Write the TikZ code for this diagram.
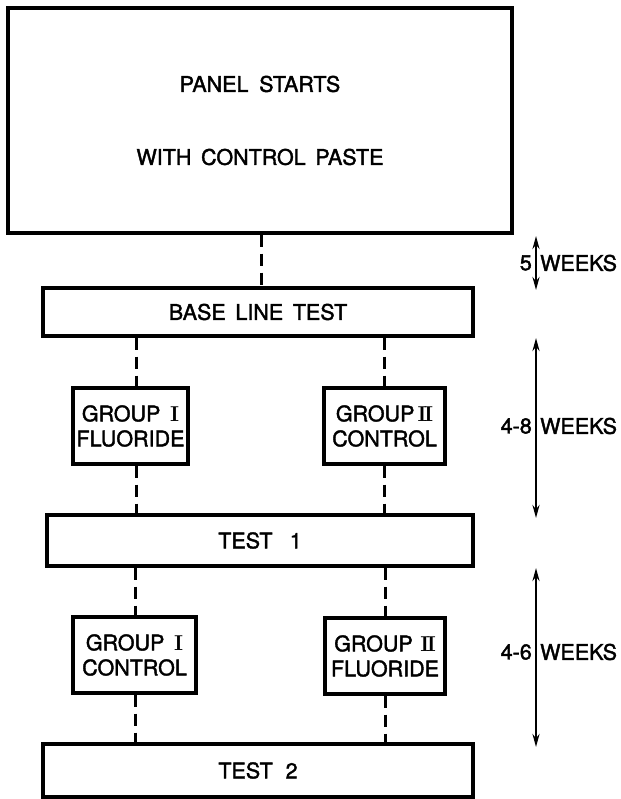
\documentclass[tikz,border=0pt]{standalone}
\usepackage{fontspec}
\setmainfont{TeX Gyre Heros}[FakeBold=1.8]
\newfontfamily\lmr{Latin Modern Roman}
\usetikzlibrary{arrows.meta}
\tikzset{
  boxnode/.style={draw, line width=3.3pt, rectangle, inner sep=0pt, align=center, font=\fontsize{21.5}{25}\selectfont},
  dashline/.style={line width=3pt, dash pattern=on 12pt off 7pt},
  spanarrow/.style={line width=2.8pt, {Stealth[length=13pt,width=7pt]}-{Stealth[length=13pt,width=7pt]}},
  lbl/.style={inner sep=0pt, font=\fontsize{21.5}{25}\selectfont}
}
\newcommand{\rI}{{\lmr\bfseries I}}
\newcommand{\rII}{{\lmr\bfseries I\kern-0.12em I}}
\begin{document}
\begin{tikzpicture}[x=1pt,y=-1pt]
\useasboundingbox (0,0) rectangle (620,799);
% boxes
\node[boxnode, minimum width=504pt, minimum height=225pt] (top) at (260,120.5)
  {PANEL\hspace{0.5em}STARTS\\[48pt]WITH\hspace{0.45em}CONTROL\hspace{0.45em}PASTE};
\node[boxnode, minimum width=430pt, minimum height=48pt] (base) at (258,312) {BASE\hspace{0.45em}LINE\hspace{0.45em}TEST};
\node[boxnode, minimum width=115pt, minimum height=76pt] (g1f) at (130.5,426) {GROUP\hspace{0.45em}\rI\\FLUORIDE};
\node[boxnode, minimum width=121pt, minimum height=76pt] (g2c) at (384.5,426) {GROUP\hspace{0.15em}\rII\\CONTROL};
\node[boxnode, minimum width=426pt, minimum height=51pt] (t1) at (260,540.5) {TEST\hspace{0.8em}1};
\node[boxnode, minimum width=123pt, minimum height=76pt] (g1c) at (134.5,655) {GROUP\hspace{0.45em}\rI\\CONTROL};
\node[boxnode, minimum width=120pt, minimum height=76pt] (g2f) at (385,656) {GROUP\hspace{0.35em}\rII\\FLUORIDE};
\node[boxnode, minimum width=430pt, minimum height=53pt] (t2) at (258,770.5) {TEST\hspace{0.6em}2};
% dashed connector columns
\coordinate (c0) at (261,0);
\coordinate (c1) at (136,0);
\coordinate (c2) at (384,0);
\coordinate (c3) at (135,0);
\coordinate (c4) at (385,0);
\draw[dashline] (top.south -| c0) -- (base.north -| c0);
\draw[dashline] (base.south -| c1) -- (g1f.north -| c1);
\draw[dashline] (base.south -| c2) -- (g2c.north -| c2);
\draw[dashline] (g1f.south -| c1) -- (t1.north -| c1);
\draw[dashline] (g2c.south -| c2) -- (t1.north -| c2);
\draw[dashline] (t1.south -| c3) -- (g1c.north -| c3);
\draw[dashline] (t1.south -| c4) -- (g2f.north -| c4);
\draw[dashline] (g1c.south -| c3) -- (t2.north -| c3);
\draw[dashline] (g2f.south -| c4) -- (t2.north -| c4);
% time spans
\coordinate (a1) at (536,236);
\coordinate (a2) at (536,290);
\coordinate (b1) at (536,338);
\coordinate (b2) at (536,518);
\coordinate (d1) at (536,568);
\coordinate (d2) at (536,747);
\draw[spanarrow] (a1) -- (a2);
\draw[spanarrow] (b1) -- (b2);
\draw[spanarrow] (d1) -- (d2);
\node[lbl, anchor=east] (n5) at (532,263) {5};
\node[lbl, anchor=west] (w5) at (540,263) {WEEKS};
\node[lbl, anchor=east] (n48) at (532,426) {4-8};
\node[lbl, anchor=west] (w48) at (540,426) {WEEKS};
\node[lbl, anchor=east] (n46) at (532,652) {4-6};
\node[lbl, anchor=west] (w46) at (540,652) {WEEKS};
\end{tikzpicture}
\end{document}
